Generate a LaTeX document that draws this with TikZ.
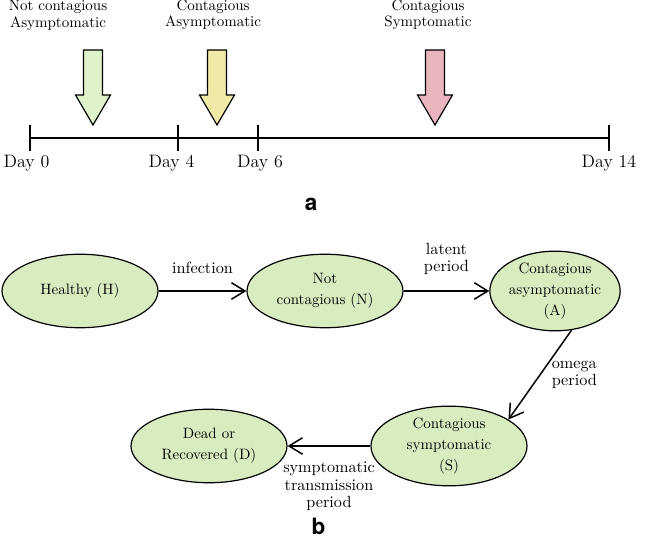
\documentclass[tikz,border=0pt]{standalone}
\usepackage{fontspec}
\newfontfamily\panelfont{TeX Gyre Heros}
\usepackage{tikz}
\usetikzlibrary{arrows.meta, shapes.geometric}
\definecolor{stategreen}{HTML}{D8ECC0}
\definecolor{notcol}{HTML}{DFF2C9}
\definecolor{asymcol}{HTML}{EFEAA6}
\definecolor{symcol}{HTML}{E9B5BF}
\tikzset{
    >={Straight Barb[length=9pt,width=11pt]},
    state/.style={ellipse, draw, thick, fill=stategreen, inner sep=0pt,
        minimum width=104pt, minimum height=49pt, align=center,
        font=\fontsize{10}{14}\selectfont},
    flow/.style={->, line width=1pt},
    edgelabel/.style={align=center, font=\fontsize{10.8}{11.6}\selectfont},
    phase/.style={align=center, font=\fontsize{10}{11}\selectfont},
    blockarrow/.style={draw, thick, line join=miter},
    daytick/.style={thick},
    daylabel/.style={font=\large},
    panel/.style={font=\panelfont\bfseries\fontsize{15}{15}\selectfont},
}

\begin{document}
\begin{tikzpicture}[x=6.667pt, y=6.667pt]
    \useasboundingbox (0,0) rectangle (65.1,54);
    % timeline (a)
    \draw[daytick] (3.0,40.2) -- (60.9,40.2);
    \foreach \x/\d/\dx in {3.0/0/-0.35, 17.8/4/-0.65, 25.8/6/0.2, 60.9/14/0} {
        \draw[daytick] (\x,38.9) -- (\x,41.5);
        \node[daylabel] (day\d) at (\x+\dx,37.65) {Day \d};
    }
    \foreach \x/\col in {9.3/notcol, 21.7/asymcol, 43.5/symcol} {
        \draw[blockarrow, fill=\col] (\x-0.95,49.0) -- (\x+0.95,49.0) -- (\x+0.95,44.5)
            -- (\x+1.75,44.5) -- (\x,41.5) -- (\x-1.75,44.5) -- (\x-0.95,44.5) -- cycle;
    }
    \node[phase] (not) at (5.8,52.45) {Not contagious\\Asymptomatic};
    \node[phase] (asym) at (21.3,52.5) {Contagious\\Asymptomatic};
    \node[phase] (sym) at (42.8,52.5) {Contagious\\Symptomatic};
    \node[panel] (a) at (31.1,33.6) {a};
    % state diagram (b)
    \node[state] (H) at (8.0,24.9) {Healthy (H)};
    \node[state] (N) at (32.5,24.9) {Not\\contagious (N)};
    \node[state, minimum width=83pt, minimum height=50pt] (A) at (55.5,24.9) {Contagious\\asymptomatic\\(A)};
    \node[state] (S) at (44.9,9.4) {Contagious\\symptomatic\\(S)};
    \node[state] (D) at (20.9,9.4) {Dead or\\Recovered (D)};
    \draw[flow] (H) -- node[edgelabel, above=8pt] {infection} (N);
    \draw[flow] (N) -- node[edgelabel, above=7pt] {latent\\period} (A);
    \draw[flow] (A.-67) -- node[edgelabel, right=4pt] {omega\\period} (S.24);
    \draw[flow] (S) -- node[edgelabel, below=7pt] {symptomatic\\transmission\\period} (D);
    \node[panel] (b) at (31.85,1.35) {b};
\end{tikzpicture}
\end{document}
